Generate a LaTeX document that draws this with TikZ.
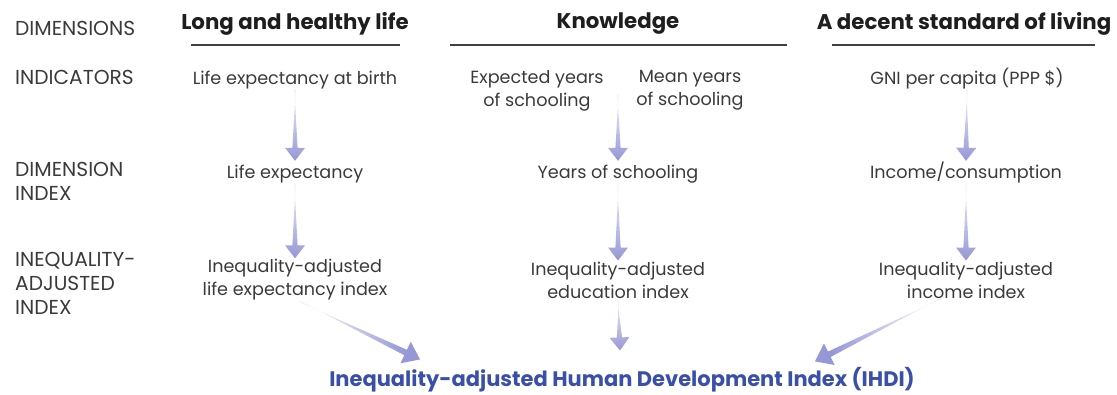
\documentclass[tikz,border=0pt]{standalone}
\usepackage{fontspec}
\setmainfont{Poppins}
\usetikzlibrary{calc}
\definecolor{arrowc}{HTML}{9597D6}
\definecolor{arrowl}{HTML}{F2F2FA}
\definecolor{txt}{HTML}{3A3A3A}
\definecolor{headc}{HTML}{1E1E1E}
\definecolor{ihdi}{HTML}{3A4FAA}
% tapered, shaded arrow: #1 from, #2 to, #3 head length, #4 head half width, #5 neck half width, #6 shading angle
\newcommand\taparr[6]{%
  \coordinate (tmpn) at ($(#2)!#3!(#1)$);
  \shade[top color=arrowl, bottom color=arrowc, shading angle=#6]
    ($(#1)!0.7pt!90:(#2)$) -- ($(tmpn)!#5!-90:(#2)$) -- ($(tmpn)!#4!-90:(#2)$) -- (#2)
    -- ($(tmpn)!#4!90:(#2)$) -- ($(tmpn)!#5!90:(#2)$) -- ($(#1)!0.7pt!-90:(#2)$) -- cycle;}
\tikzset{
  lab/.style={anchor=west, align=left, font=\fontsize{20.2}{24}\selectfont, text=txt, inner sep=0pt},
  dimh/.style={font=\fontsize{21.3}{24}\selectfont\bfseries, text=headc, inner sep=0pt},
  ind/.style={align=center, font=\fontsize{17.6}{23}\selectfont, text=txt, inner sep=1pt},
  one/.style={ind, text height=16pt, text depth=4pt},
  rulel/.style={draw=headc!85, line width=1.3pt},
  titl/.style={font=\fontsize{21}{24}\selectfont\bfseries, text=ihdi, inner sep=0pt}
}
\begin{document}
\begin{tikzpicture}[x=1pt,y=-1pt]
\useasboundingbox (0,0) rectangle (1117,394);
% row labels
\node[lab] (r1) at (15,28) {DIMENSIONS};
\node[lab] (r2) at (15,77) {INDICATORS};
\node[lab] (r3) at (15,181) {DIMENSION\\INDEX};
\node[lab] (r4) at (15,283) {INEQUALITY-\\ADJUSTED\\INDEX};
% dimensions
\node[dimh] (h1) at (295,24) {Long and healthy life};
\node[dimh] (h2) at (618,24) {Knowledge};
\node[dimh] (h3) at (964,24) {A decent standard of living};
\draw[rulel] (191,45) -- (400,45);
\draw[rulel] (450,45) -- (787,45);
\draw[rulel] (832,45) -- (1095,45);
% indicators
\node[one] (i1) at (295,78) {Life expectancy at birth};
\node[ind] (i2a) at (537,90.5) {Expected years\\of schooling};
\node[ind] (i2b) at (690,90.5) {Mean years\\of schooling};
\node[one] (i3) at (967,78) {GNI per capita (PPP \$)};
% dimension index
\node[one] (d1) at (295,172) {Life expectancy};
\node[one] (d2) at (618,172) {Years of schooling};
\node[one] (d3) at (966,172) {Income/consumption};
% inequality-adjusted
\node[ind] (q1) at (295,280) {Inequality-adjusted\\life expectancy index};
\node[ind] (q2) at (618,280) {Inequality-adjusted\\education index};
\node[ind] (q3) at (966,280) {Inequality-adjusted\\income index};
% title
\node[titl] (t) at (622,380) {Inequality-adjusted Human Development Index (IHDI)};
% arrow end points
\coordinate (k0) at (618,94);
\coordinate (s1) at ($(q1.south)+(5,0)$);
\coordinate (s3) at ($(q3.south)+(-21,-3)$);
\coordinate (e1) at ($(t.north)+(-202,-8)$);
\coordinate (e2) at ($(t.north)+(-2,-17)$);
\coordinate (e3) at ($(t.north)+(193,-6)$);
% arrows
\taparr{i1.south}{d1.north}{13pt}{10pt}{2.6pt}{0}
\taparr{k0}{d2.north}{13pt}{10pt}{2.6pt}{0}
\taparr{i3.south}{d3.north}{13pt}{10pt}{2.6pt}{0}
\taparr{d1.south}{q1.north}{13pt}{10pt}{2.6pt}{0}
\taparr{d2.south}{q2.north}{13pt}{10pt}{2.6pt}{0}
\taparr{d3.south}{q3.north}{13pt}{10pt}{2.6pt}{0}
\taparr{q2.south}{e2}{13pt}{10pt}{2.6pt}{0}
\taparr{s1}{e1}{16pt}{12pt}{3pt}{65}
\taparr{s3}{e3}{16pt}{12pt}{3pt}{-64}
\end{tikzpicture}
\end{document}
